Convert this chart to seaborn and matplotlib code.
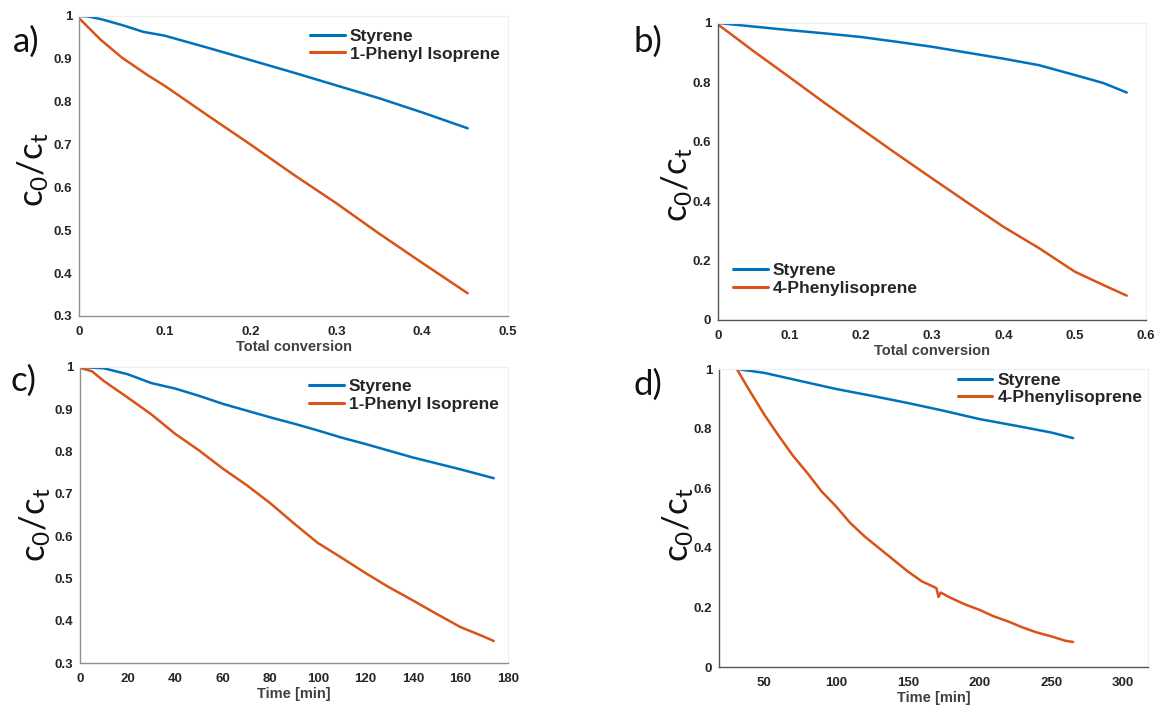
import numpy as np
import pandas as pd
import matplotlib
matplotlib.use("Agg")
import matplotlib.pyplot as plt
import seaborn as sns

# ---------------- data ----------------
# a) c0/ct vs total conversion (Styrene / 1-Phenyl Isoprene)
a_sty_x = [0.0, 0.01, 0.025, 0.05, 0.075, 0.1, 0.15, 0.2, 0.25, 0.3, 0.35, 0.4, 0.453]
a_sty_y = [1.0, 0.999, 0.993, 0.979, 0.963, 0.954, 0.926, 0.897, 0.868, 0.838, 0.808, 0.775, 0.738]
a_phi_x = [0.0, 0.025, 0.05, 0.08, 0.1, 0.15, 0.2, 0.25, 0.3, 0.35, 0.4, 0.453]
a_phi_y = [0.995, 0.945, 0.903, 0.862, 0.837, 0.768, 0.700, 0.630, 0.563, 0.492, 0.424, 0.353]

# b) c0/ct vs total conversion (Styrene / 4-Phenylisoprene)
b_sty_x = [0.0, 0.05, 0.1, 0.15, 0.2, 0.25, 0.3, 0.35, 0.4, 0.45, 0.5, 0.54, 0.573]
b_sty_y = [1.0, 0.988, 0.976, 0.965, 0.953, 0.937, 0.920, 0.900, 0.880, 0.858, 0.825, 0.798, 0.766]
b_phi_x = [0.0, 0.05, 0.1, 0.15, 0.2, 0.25, 0.3, 0.35, 0.4, 0.45, 0.5, 0.54, 0.573]
b_phi_y = [0.995, 0.905, 0.818, 0.730, 0.645, 0.560, 0.477, 0.395, 0.314, 0.242, 0.163, 0.118, 0.082]

# c) c0/ct vs time (Styrene / 1-Phenyl Isoprene)
c_sty_x = [0, 10, 20, 30, 40, 50, 60, 70, 80, 90, 100, 110, 120, 130, 140, 150, 160, 174]
c_sty_y = [1.0, 0.997, 0.983, 0.962, 0.949, 0.932, 0.913, 0.897, 0.881, 0.866, 0.850, 0.833, 0.818, 0.802, 0.786, 0.772, 0.758, 0.737]
c_phi_x = [0, 5, 10, 20, 30, 40, 50, 60, 70, 80, 90, 100, 110, 120, 130, 140, 150, 160, 170, 174]
c_phi_y = [0.998, 0.99, 0.967, 0.928, 0.888, 0.842, 0.803, 0.760, 0.721, 0.678, 0.630, 0.584, 0.549, 0.513, 0.479, 0.448, 0.416, 0.385, 0.362, 0.352]

# d) c0/ct vs time (Styrene / 4-Phenylisoprene)
d_sty_x = [30.8, 50, 75, 100, 125, 150, 175, 200, 225, 250, 265.4]
d_sty_y = [1.0, 0.987, 0.960, 0.933, 0.910, 0.886, 0.860, 0.832, 0.810, 0.787, 0.768]
d_phi_x = [30.8, 40, 50, 60, 70, 80, 90, 100, 110, 120, 130, 140, 150, 160, 170, 171.5,
           173, 180, 190, 200, 210, 220, 230, 240, 250, 260, 265.4]
d_phi_y = [1.0, 0.925, 0.847, 0.776, 0.709, 0.651, 0.589, 0.539, 0.483, 0.438, 0.399, 0.360,
           0.321, 0.287, 0.265, 0.235, 0.250, 0.232, 0.210, 0.192, 0.170, 0.153, 0.133, 0.116,
           0.103, 0.088, 0.084]

BLUE = "#0072BD"
ORANGE = "#D95319"

sns.set_theme(style="white")
plt.rcParams["font.family"] = ["Liberation Sans", "DejaVu Sans"]

W, H = 1157, 707
fig = plt.figure(figsize=(W / 100, H / 100), dpi=100)


def px_axes(l, t, r, b):
    return fig.add_axes([l / W, 1 - b / H, (r - l) / W, (b - t) / H])


panels = [
    dict(rect=(79, 16, 508, 316), sx=a_sty_x, sy=a_sty_y, px=a_phi_x, py=a_phi_y,
         lab2="1-Phenyl Isoprene", xlim=(0, 0.5), ylim=(0.3, 1.0),
         xt=np.arange(0, 0.51, 0.1), yt=np.arange(0.3, 1.01, 0.1),
         xlabel="Total conversion", spine="#8f8f8f", leg=(0.538, 0.958),
         letter="a)", lpos=(26, 42), ylpos=(33, 170)),
    dict(rect=(718, 23, 1146, 320), sx=b_sty_x, sy=b_sty_y, px=b_phi_x, py=b_phi_y,
         lab2="4-Phenylisoprene", xlim=(0, 0.6), ylim=(0, 1.0),
         xt=np.arange(0, 0.61, 0.1), yt=np.arange(0, 1.01, 0.2),
         xlabel="Total conversion", spine="#555555", leg=(0.035, 0.192),
         letter="b)", lpos=(648, 42), ylpos=(677, 185)),
    dict(rect=(80, 367, 508, 663), sx=c_sty_x, sy=c_sty_y, px=c_phi_x, py=c_phi_y,
         lab2="1-Phenyl Isoprene", xlim=(0, 180), ylim=(0.3, 1.0),
         xt=np.arange(0, 181, 20), yt=np.arange(0.3, 1.01, 0.1),
         xlabel="Time [min]", spine="#8f8f8f", leg=(0.535, 0.96),
         letter="c)", lpos=(24, 381), ylpos=(35, 525)),
    dict(rect=(719, 369, 1148, 667), sx=d_sty_x, sy=d_sty_y, px=d_phi_x, py=d_phi_y,
         lab2="4-Phenylisoprene", xlim=(18.4, 317.6), ylim=(0, 1.0),
         xt=np.arange(50, 301, 50), yt=np.arange(0, 1.01, 0.2),
         xlabel="Time [min]", spine="#555555", leg=(0.556, 0.988),
         letter="d)", lpos=(648, 385), ylpos=(678, 525)),
]

for p in panels:
    ax = px_axes(*p["rect"])
    df = pd.concat([
        pd.DataFrame({"x": p["sx"], "y": p["sy"], "series": "Styrene"}),
        pd.DataFrame({"x": p["px"], "y": p["py"], "series": p["lab2"]}),
    ], ignore_index=True)
    sns.lineplot(data=df, x="x", y="y", hue="series",
                 palette={"Styrene": BLUE, p["lab2"]: ORANGE},
                 estimator=None, sort=False, linewidth=1.8, ax=ax)
    ax.set_xlim(*p["xlim"])
    ax.set_ylim(*p["ylim"])
    ax.set_xticks(p["xt"])
    ax.set_yticks(p["yt"])
    fmt = lambda v, pos: ("%g" % round(v, 6))
    ax.xaxis.set_major_formatter(matplotlib.ticker.FuncFormatter(fmt))
    ax.yaxis.set_major_formatter(matplotlib.ticker.FuncFormatter(fmt))
    ax.tick_params(direction="in", length=4, width=0.8, colors=p["spine"],
                   labelcolor="#262626", labelsize=9.5, pad=5)
    ax.tick_params(axis="x", pad=7)
    for lbl in ax.get_xticklabels() + ax.get_yticklabels():
        lbl.set_fontweight("bold")
    for s in ["left", "bottom"]:
        ax.spines[s].set_color(p["spine"])
        ax.spines[s].set_linewidth(1.0)
    for s in ["top", "right"]:
        ax.spines[s].set_color("#efefef")
        ax.spines[s].set_linewidth(0.8)
    ax.set_xlabel(p["xlabel"], fontsize=10.5, fontweight="bold", color="#404040", labelpad=1.5)
    ax.set_ylabel("")
    leg = ax.legend(loc="upper left", bbox_to_anchor=p["leg"], frameon=False,
                    prop={"weight": "bold", "size": 12.5}, handlelength=2.0,
                    handletextpad=0.3, labelspacing=0.15, borderpad=0, borderaxespad=0)
    for line in leg.get_lines():
        line.set_linewidth(2.2)
    fig.text(p["lpos"][0] / W, 1 - p["lpos"][1] / H, p["letter"], fontsize=25,
             family=["Lato", "DejaVu Sans"], ha="center", va="center", color="#111111")
    fig.text(p["ylpos"][0] / W, 1 - p["ylpos"][1] / H, r"$\mathregular{c_0/c_t}$",
             fontsize=25, family=["Lato", "DejaVu Sans"], rotation=90,
             ha="center", va="center", color="#111111")

fig.savefig("out.png", dpi=100, facecolor="white")
